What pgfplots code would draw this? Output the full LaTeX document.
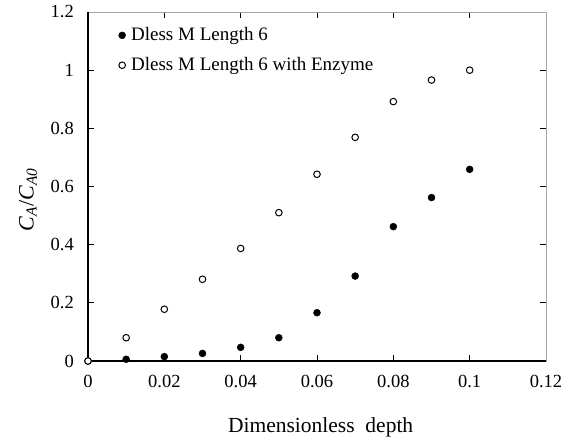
\documentclass[border=0pt]{standalone}
\usepackage{pgfplots}
\pgfplotsset{compat=1.18}
\usepackage{fontspec}
\setmainfont{Liberation Serif}
\begin{document}
\fontsize{18bp}{21bp}\selectfont
\begin{tikzpicture}
\begin{axis}[
  name=ax,
  scale only axis,
  width=458bp, height=349bp,
  xmin=0, xmax=0.12, ymin=0, ymax=1.2,
  clip=false,
  axis line style={draw=gray!70, line width=0.8bp},
  tick align=inside,
  major tick length=6bp,
  tick style={black, line width=0.8bp},
  xtick={0,0.02,0.04,0.06,0.08,0.1,0.12},
  xticklabels={0,0.02,0.04,0.06,0.08,0.1,0.12},
  ytick={0,0.2,0.4,0.6,0.8,1,1.2},
  yticklabels={0,0.2,0.4,0.6,0.8,1,1.2},
  scaled ticks=false,
  /pgf/number format/assume math mode=true,
  tick label style={font=\fontsize{18.5bp}{21bp}\selectfont},
  xticklabel style={yshift=-8bp},
  yticklabel style={xshift=-8bp},
  xlabel={Dimensionless~~depth},
  xlabel style={at={(axis description cs:0.508,-0.189)}, anchor=center, font=\fontsize{21.5bp}{24bp}\selectfont},
  ylabel={\textit{C}\textsubscript{\textit{A}}/\textit{C}\textsubscript{\textit{A0}}},
  ylabel style={at={(axis description cs:-0.131,0.462)}, anchor=center, rotate=0, font=\fontsize{22bp}{24bp}\selectfont},
  legend style={draw=none, fill=none, at={(axis description cs:0.060,0.965)}, anchor=north west,
    font=\fontsize{19bp}{22bp}\selectfont, row sep=12bp,
    nodes={inner xsep=5.5bp, inner ysep=1bp}},
  legend cell align=left,
  legend image code/.code={\draw[#1] plot coordinates {(0bp,0bp)};},
]
\addplot[only marks, mark=*, mark size=3.5bp, draw=black, fill=black] coordinates {
(0,0) (0.01,0.006) (0.02,0.015) (0.03,0.026) (0.04,0.047) (0.05,0.080)
(0.06,0.166) (0.07,0.292) (0.08,0.462) (0.09,0.562) (0.1,0.659)};
\addlegendentry{Dless M Length 6}
\addplot[only marks, mark=*, mark size=3.3bp, mark options={draw=black, fill=white, line width=1bp}] coordinates {
(0,0) (0.01,0.080) (0.02,0.178) (0.03,0.281) (0.04,0.387) (0.05,0.510)
(0.06,0.642) (0.07,0.769) (0.08,0.892) (0.09,0.966) (0.1,1.0)};
\addlegendentry{Dless M Length 6 with Enzyme}
\draw[black, line width=1.6bp] (rel axis cs:0,1) -- (rel axis cs:0,0) -- (rel axis cs:1,0);
\end{axis}
\pgfresetboundingbox
\path (ax.south west) ++(-88bp,-83bp) rectangle ([shift={(27bp,12bp)}]ax.north east);
\end{tikzpicture}
\end{document}
